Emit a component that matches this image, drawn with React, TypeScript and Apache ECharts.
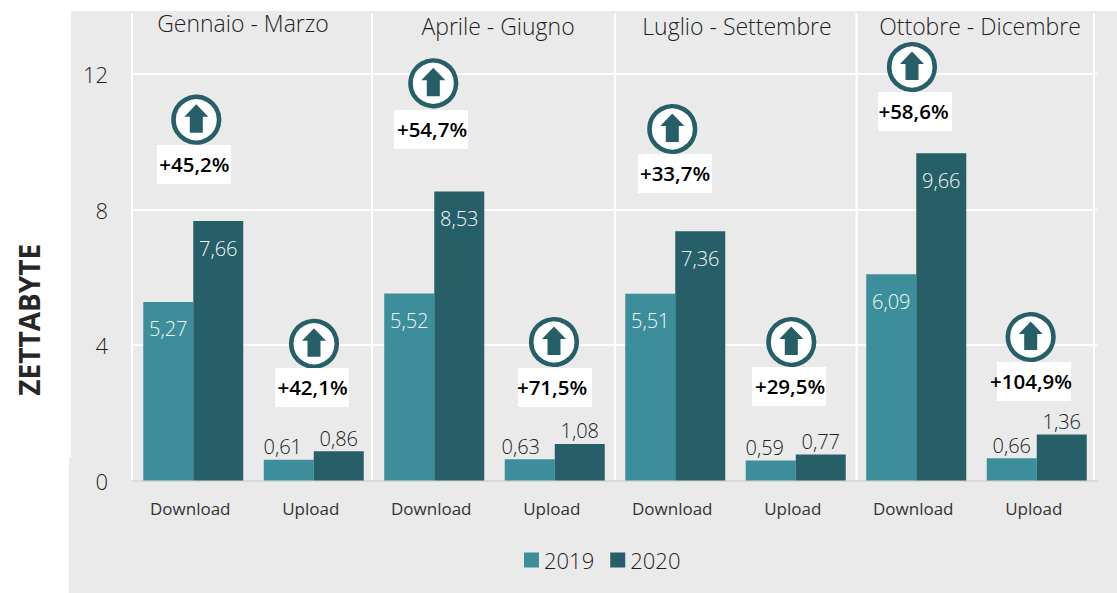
import React, { useEffect, useRef } from "react";
import * as echarts from "echarts";

const categories = ["Download", "Upload", "Download", "Upload", "Download", "Upload", "Download", "Upload"];
const values2019 = [5.27, 0.61, 5.52, 0.63, 5.51, 0.59, 6.09, 0.66];
const values2020 = [7.66, 0.86, 8.53, 1.08, 7.36, 0.77, 9.66, 1.36];
const quarters = ["Gennaio - Marzo", "Aprile - Giugno", "Luglio - Settembre", "Ottobre - Dicembre"];
const growth = ["+45,2%", "+42,1%", "+54,7%", "+71,5%", "+33,7%", "+29,5%", "+58,6%", "+104,9%"];

// layout of the annotations, in page pixels
const quarterPos = [[243, 23], [498, 26], [737, 26], [980, 26]];
const badgePos = [[196.3, 119.7], [314, 343.8], [433.3, 83.3], [554, 342], [672.3, 129], [791.3, 342], [912, 67], [1030.7, 337]];
const boxPos = [[157, 145], [275, 368], [394, 110], [518, 368], [638, 154], [752, 367], [878, 92], [997, 362]];
const textCx = [194.3, 312.5, 432, 552, 675, 790, 913.5, 1031];
const dividers = [132, 372, 615, 856.5, 1094];
const labelShift2019 = [0, -6, 0, -9, 0, -6, 0, 0];

const FONT = "'Open Sans', sans-serif";
const C2019 = "#3C8E9A";
const C2020 = "#265F68";
const GRAY = "#EAEAEA";
const fmt = (p: any) => String(p.value.toFixed(2)).replace(".", ",");

function seriesData(vals: number[], shift: number[]) {
  return vals.map((value, i) => ({
    value,
    label:
      i % 2 === 0
        ? { position: "insideTop", distance: 17, color: "#F2F7F8", offset: [shift[i], 0] }
        : { position: "top", distance: 3, color: "#222222", offset: [shift[i], 0] },
  }));
}

function buildGraphics() {
  const els: any[] = [
    { type: "rect", z: -10, silent: true, shape: { x: 71, y: 11, width: 1046, height: 446 }, style: { fill: GRAY } },
    { type: "rect", z: -10, silent: true, shape: { x: 69, y: 457, width: 1048, height: 136 }, style: { fill: GRAY } },
  ];
  dividers.forEach((x) => {
    els.push({ type: "line", z: -5, silent: true, shape: { x1: x, y1: 13, x2: x, y2: 480 }, style: { stroke: "#fff", lineWidth: 2 } });
  });
  quarters.forEach((q, i) => {
    els.push({
      type: "text", z: 20, x: quarterPos[i][0], y: quarterPos[i][1],
      style: { text: q, fill: "#1F1F1F", font: `300 23px ${FONT}`, align: "center", verticalAlign: "middle" },
    });
  });
  growth.forEach((g, i) => {
    const [cx, cy] = badgePos[i];
    const [bx, by] = boxPos[i];
    els.push({ type: "circle", z: 20, shape: { cx, cy, r: 22.8 }, style: { fill: "#fff", stroke: C2020, lineWidth: 4.6 } });
    els.push({
      type: "polygon", z: 21,
      shape: { points: [[cx, cy - 15.5], [cx + 12, cy - 3], [cx + 6.5, cy - 3], [cx + 6.5, cy + 13], [cx - 6.5, cy + 13], [cx - 6.5, cy - 3], [cx - 12, cy - 3]] },
      style: { fill: C2020 },
    });
    els.push({ type: "rect", z: 20, shape: { x: bx, y: by, width: 74, height: 39 }, style: { fill: "#fff" } });
    els.push({
      type: "text", z: 22, x: textCx[i], y: by + 19,
      style: { text: g, fill: "#000", font: `600 20.5px ${FONT}`, align: "center", verticalAlign: "middle" },
    });
  });
  return els;
}

export default function App() {
  const ref = useRef<HTMLDivElement>(null);
  useEffect(() => {
    const chart = echarts.init(ref.current!, undefined, { renderer: "svg" });
    chart.setOption({
      animation: false,
      backgroundColor: "#fff",
      textStyle: { fontFamily: FONT },
      grid: { left: 133, top: 11, width: 964, height: 469.5, containLabel: false },
      legend: {
        left: 519, top: 544, itemWidth: 15, itemHeight: 15, itemGap: 16, icon: "rect",
        textStyle: { fontFamily: FONT, fontSize: 22, color: "#1F1F1F", fontWeight: 300 },
        data: ["2019", "2020"],
      },
      xAxis: {
        type: "category", data: categories,
        axisLine: { show: true, lineStyle: { color: "#D9D9D9", width: 2 } },
        axisTick: { show: false }, splitLine: { show: false },
        axisLabel: { interval: 0, margin: 19, fontFamily: FONT, fontSize: 17, color: "#333", fontWeight: 400, padding: [0, 6, 0, 0] },
      },
      yAxis: {
        type: "value", min: 0, max: 13.86, interval: 4,
        name: "ZETTABYTE", nameLocation: "middle", nameGap: 90,
        nameTextStyle: { fontFamily: FONT, fontSize: 28, fontWeight: 700, color: "#262626", padding: [0, 148, 0, 0] },
        axisLine: { show: false }, axisTick: { show: false },
        splitLine: { show: true, showMaxLine: false, lineStyle: { color: "#fff", width: 2 } },
        axisLabel: {
          margin: 25, fontFamily: FONT, fontSize: 22, color: "#1F1F1F", fontWeight: 300, showMaxLabel: false,
          padding: [0, 0, 2, 0],
          formatter: (v: number) => (v > 12 ? "" : String(v)),
        },
      },
      series: [
        {
          name: "2019", type: "bar", barWidth: 50, barGap: 0, itemStyle: { color: C2019 },
          label: { show: true, formatter: fmt, fontFamily: FONT, fontSize: 20, fontWeight: 300 },
          data: seriesData(values2019, labelShift2019),
        },
        {
          name: "2020", type: "bar", barWidth: 50, barGap: 0, itemStyle: { color: C2020 },
          label: { show: true, formatter: fmt, fontFamily: FONT, fontSize: 20, fontWeight: 300 },
          data: seriesData(values2020, values2020.map(() => 0)),
        },
      ],
      graphic: { elements: buildGraphics() },
    });
    return () => chart.dispose();
  }, []);
  return <div ref={ref} style={{ position: "fixed", left: 0, top: 0, width: 1117, height: 593 }} />;
}
